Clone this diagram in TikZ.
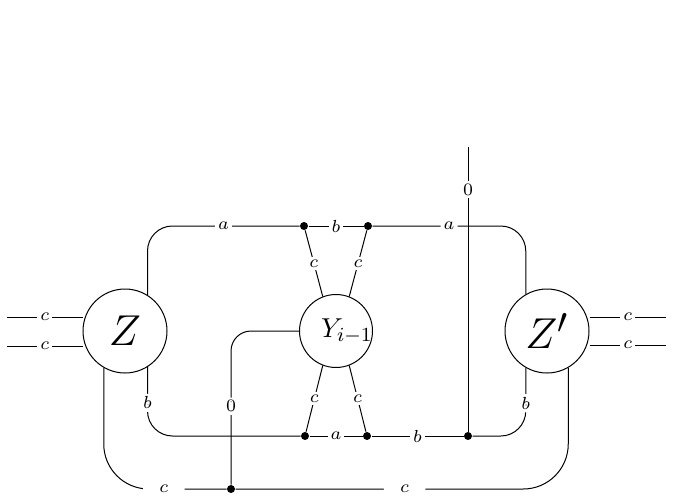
\documentclass[tikz,border=0pt]{standalone}
\usepackage{tikz}
\usetikzlibrary{positioning,calc}

\tikzset{
    box/.style={circle, draw, fill=white, inner sep=0pt},
    lbl/.style={fill=white, inner sep=1.2pt, font=\scriptsize},
    widelbl/.style={lbl, inner xsep=6.5pt},
    dot/.style={circle, fill=black, inner sep=0pt, minimum size=3.2pt}
}

\begin{document}
\begin{tikzpicture}[x=0.4pt, y=-0.4pt]
    \useasboundingbox (0,0) rectangle (673,500);

    % the three boxes
    \node[box, minimum size=33.6pt, font=\fontsize{19}{22}\selectfont] (Z) at (125,331) {$Z$};
    \node[box, minimum size=29.2pt] (Y) at (336,331) {};
    \node[font=\fontsize{11}{13}\selectfont, xshift=4.4pt] (Ytext) at (Y) {$Y_{i-1}$};
    \node[box, minimum size=33.6pt, font=\fontsize{19}{22}\selectfont] (Zp) at (547,331) {$Z'$};

    % junctions
    \node[dot] (t1) at (304,226) {};
    \node[dot] (t2) at (368,226) {};
    \node[dot] (b1) at (305,436) {};
    \node[dot] (b2) at (367,436) {};
    \node[dot] (b3) at (468,436) {};
    \node[dot] (d0) at (231,489) {};
    \coordinate (top0) at (468,147);
    \coordinate (in1) at (7,317);
    \coordinate (in2) at (7,346);
    \coordinate (out1) at (666,317);
    \coordinate (out2) at (666,345);

    % outer legs
    \draw (in1) -- node[lbl] {$c$} (in1 -| Z.west);
    \draw (in2) -- node[lbl] {$c$} (in2 -| Z.west);
    \draw (Zp.east |- out1) -- node[lbl] {$c$} (out1);
    \draw (Zp.east |- out2) -- node[lbl] {$c$} (out2);

    % upper wire
    \draw[rounded corners=10pt] (Z.58) |- node[lbl, pos=0.75] {$a$} (t1);
    \draw (t1) -- node[lbl] {$b$} (t2);
    \draw[rounded corners=10pt] (t2) -| node[lbl, pos=0.25] {$a$} (Zp.120);
    \draw (t1) -- node[lbl] {$c$} (Y.111);
    \draw (t2) -- node[lbl] {$c$} (Y.69);

    % lower wire
    \draw[rounded corners=10pt] (Z.-58) |- node[lbl, pos=0.26] {$b$} (b1);
    \draw (b1) -- node[lbl] {$a$} (b2);
    \draw (b2) -- node[lbl] {$b$} (b3);
    \draw[rounded corners=10pt] (b3) -| node[lbl, pos=0.74] {$b$} (Zp.240);
    \draw (Y.249) -- node[lbl] {$c$} (b1);
    \draw (Y.291) -- node[lbl] {$c$} (b2);

    % zero wires
    \draw (top0) -- node[lbl, pos=0.15] {$0$} (b3);
    \draw[rounded corners=8pt] (Y.west) -| node[lbl, pos=0.745] {$0$} (d0);

    % bottom wire
    \draw[rounded corners=18pt] (Z.240) |- node[widelbl, pos=0.745] {$c$} (d0);
    \draw[rounded corners=18pt] (d0) -| node[widelbl, pos=0.254] {$c$} (Zp.-60);
\end{tikzpicture}
\end{document}
